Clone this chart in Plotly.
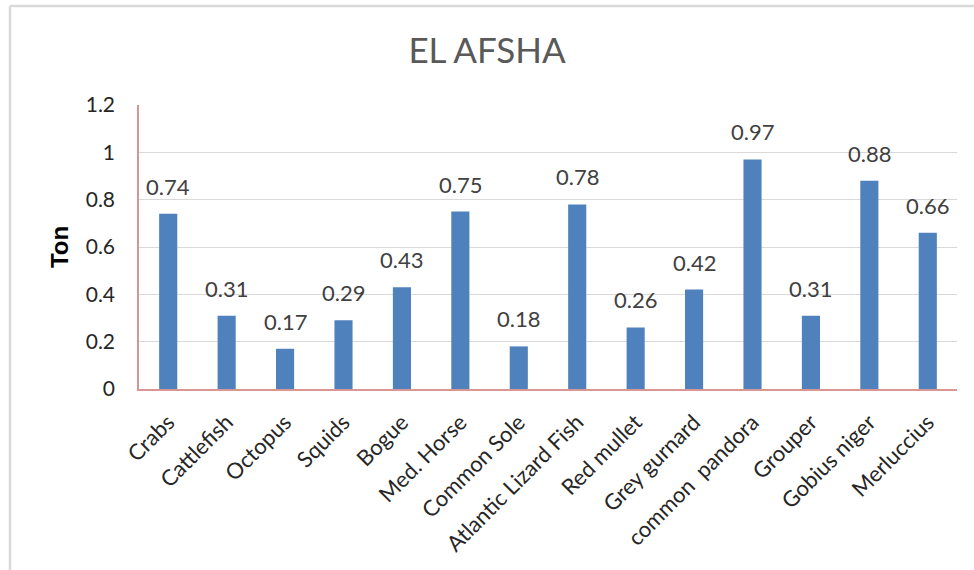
import plotly.graph_objects as go

# Catch per species (tons)
species = ["Crabs", "Cattlefish", "Octopus", "Squids", "Bogue", "Med. Horse",
           "Common Sole", "Atlantic Lizard Fish", "Red mullet", "Grey gurnard",
           "common  pandora", "Grouper", "Gobius niger", "Merluccius"]
tons = [0.74, 0.31, 0.17, 0.29, 0.43, 0.75, 0.18, 0.78, 0.26, 0.42, 0.97, 0.31, 0.88, 0.66]
y_ticks = [0, 0.2, 0.4, 0.6, 0.8, 1, 1.2]
y_tick_labels = ["0", "0.2", "0.4", "0.6", "0.8", "1", "1.2"]

W, H = 974, 570
L, R, T, B = 139, 17, 105, 181
pw, ph = W - L - R, H - T - B

def px(x):
    return (x - L) / pw

def py(y):
    return (H - B - y) / ph

font = "Lato, 'Open Sans', sans-serif"

fig = go.Figure(go.Bar(
    x=species, y=tons,
    marker=dict(color="#4F81BD", line=dict(width=0)),
))

# value labels above each bar
for s, v in zip(species, tons):
    fig.add_annotation(x=s, y=v, text=f"{v:g}", showarrow=False,
                       xanchor="center", yanchor="bottom", yshift=12,
                       font=dict(family=font, size=22, color="#404040"))

fig.update_layout(
    width=W, height=H,
    margin=dict(l=L, r=R, t=T, b=B),
    paper_bgcolor="white", plot_bgcolor="white",
    bargap=0.69,
    showlegend=False,
    font=dict(family=font),
    title=dict(text="EL AFSHA", x=0.5, xref="container", xanchor="center",
               y=1 - 51 / H, yanchor="middle",
               font=dict(family=font, size=35, color="#595959")),
    xaxis=dict(
        tickangle=-45, tickfont=dict(family=font, size=22, color="#262626"),
        showline=True, linecolor="#D99694", linewidth=1.5,
        ticks="outside", ticklen=10, tickcolor="rgba(0,0,0,0)",
        showgrid=False,
    ),
    yaxis=dict(
        range=[0, 1.2], tickvals=y_ticks, ticktext=y_tick_labels,
        tickfont=dict(family=font, size=21, color="#262626"),
        showline=True, linecolor="#D99694", linewidth=1.5,
        showgrid=True, gridcolor="#D9D9D9", gridwidth=1,
        ticks="outside", ticklen=18, tickcolor="rgba(0,0,0,0)", zeroline=False,
        title=dict(text="<b>Ton</b>", font=dict(family="Liberation Sans, Arial", size=24, color="black"),
                   standoff=10),
    ),
    shapes=[
        dict(type="line", xref="paper", yref="paper",
             x0=px(10), x1=px(W + 5), y0=py(6), y1=py(6),
             line=dict(color="#D9D9D9", width=2.5)),
        dict(type="line", xref="paper", yref="paper",
             x0=px(10), x1=px(10), y0=py(6), y1=py(H + 5),
             line=dict(color="#D9D9D9", width=2.5)),
    ],
)

fig.write_html("out.html")
